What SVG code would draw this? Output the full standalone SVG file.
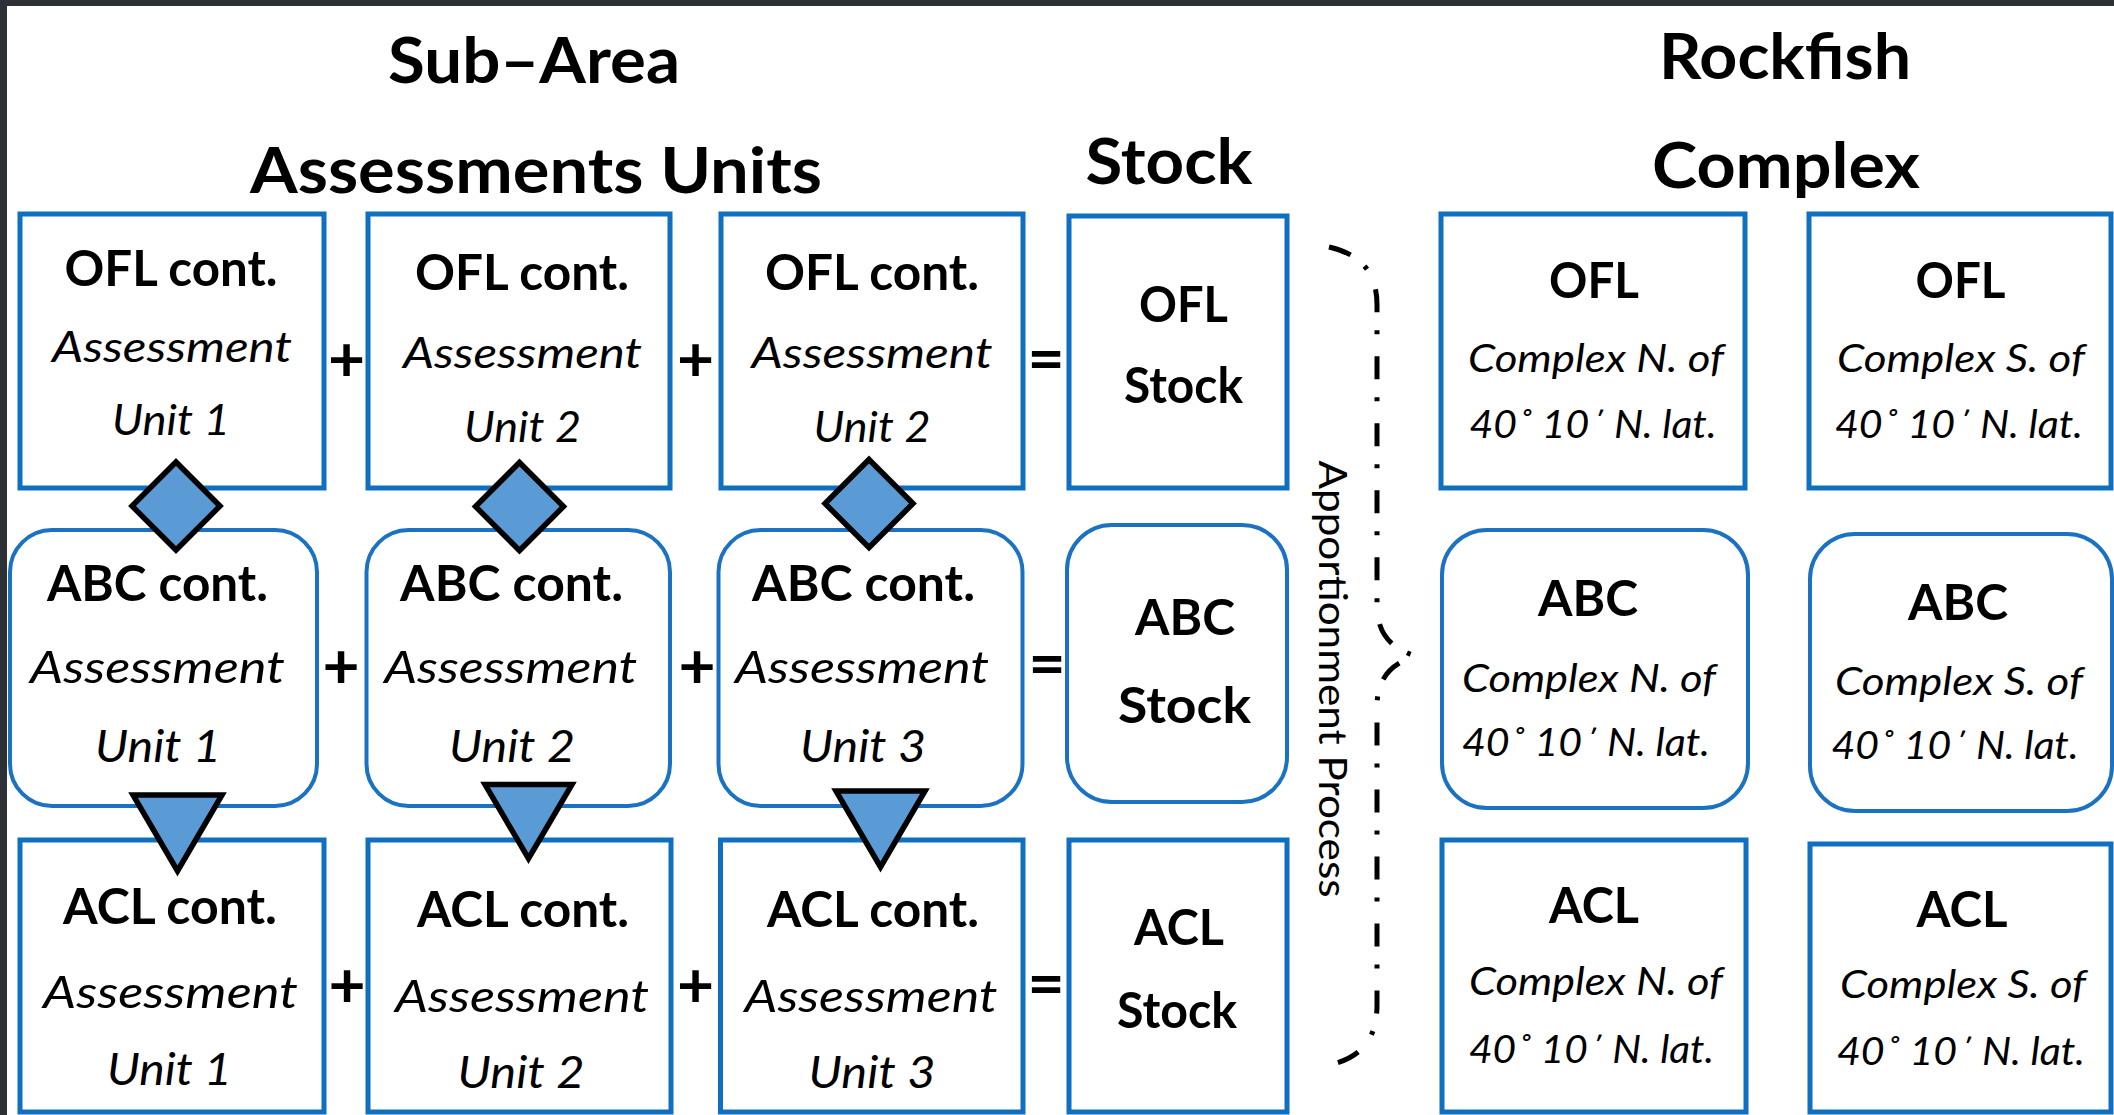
<svg xmlns="http://www.w3.org/2000/svg" width="2114" height="1115" viewBox="0 0 2114 1115">
<style>
.box{fill:#fff;stroke:#0f6fc1;stroke-width:5}
.rbox{fill:#fff;stroke:#1c72c2;stroke-width:4}
.t{font-family:Lato,"Liberation Sans",sans-serif;fill:#000;text-anchor:middle}
.b{font-weight:700}
.i{font-style:italic}
.h{font-size:64px}
.s1{font-size:49px}
.i1{font-size:42px}
.i2{font-size:45px}
.sb{font-size:50px}
.ci{font-size:39px}
.op{font-family:Lato,"Liberation Sans",sans-serif;font-size:64px;font-weight:700;fill:#000;text-anchor:middle}
.sym{fill:#5b9bd5;stroke:#000;stroke-width:5.5;stroke-linejoin:miter}
.brace{fill:none;stroke:#000;stroke-width:5;stroke-dasharray:23 18 4 22}
</style>
<rect x="0" y="0" width="2114" height="1115" fill="#2d3135"/>
<rect x="7" y="6" width="2107" height="1109" fill="#fff"/>

<g id="titles">
<text class="t b h" x="534" y="83" textLength="292" lengthAdjust="spacingAndGlyphs">Sub–Area</text>
<text class="t b h" x="536" y="193" textLength="572" lengthAdjust="spacingAndGlyphs">Assessments Units</text>
<text class="t b h" x="1169" y="184" textLength="167" lengthAdjust="spacingAndGlyphs">Stock</text>
<text class="t b h" x="1785" y="79" textLength="252" lengthAdjust="spacingAndGlyphs">Rockfish</text>
<text class="t b h" x="1786" y="188" textLength="268" lengthAdjust="spacingAndGlyphs">Complex</text>
</g>

<g id="ofl-au1">
<rect class="box" x="20" y="214" width="304" height="274"/>
<text class="t b s1" x="171" y="286" textLength="213" lengthAdjust="spacingAndGlyphs">OFL cont.</text>
<text class="t i i1" x="172" y="362" textLength="240" lengthAdjust="spacingAndGlyphs">Assessment</text>
<text class="t i i1" x="171" y="435" textLength="118" lengthAdjust="spacingAndGlyphs">Unit 1</text>
</g>
<g id="ofl-au2">
<rect class="box" x="368" y="214" width="302" height="274"/>
<text class="t b s1" x="522" y="290" textLength="214" lengthAdjust="spacingAndGlyphs">OFL cont.</text>
<text class="t i i1" x="522.5" y="368" textLength="239" lengthAdjust="spacingAndGlyphs">Assessment</text>
<text class="t i i1" x="522.5" y="442" textLength="117" lengthAdjust="spacingAndGlyphs">Unit 2</text>
</g>
<g id="ofl-au3">
<rect class="box" x="721" y="214" width="302" height="274"/>
<text class="t b s1" x="872" y="290" textLength="214" lengthAdjust="spacingAndGlyphs">OFL cont.</text>
<text class="t i i1" x="872" y="368" textLength="241" lengthAdjust="spacingAndGlyphs">Assessment</text>
<text class="t i i1" x="872" y="442" textLength="117" lengthAdjust="spacingAndGlyphs">Unit 2</text>
</g>
<g id="ofl-stock">
<rect class="box" x="1069" y="216" width="218" height="272"/>
<text class="t b sb" x="1183.5" y="322" textLength="89" lengthAdjust="spacingAndGlyphs">OFL</text>
<text class="t b sb" x="1183.5" y="403" textLength="119" lengthAdjust="spacingAndGlyphs">Stock</text>
</g>
<g id="ofl-north">
<rect class="box" x="1441" y="214" width="304" height="274"/>
<text class="t b sb" x="1594" y="298" textLength="90" lengthAdjust="spacingAndGlyphs">OFL</text>
<text class="t i ci" x="1596" y="372" textLength="256" lengthAdjust="spacingAndGlyphs">Complex N. of</text>
<text class="t i ci" x="1593" y="438" textLength="247" lengthAdjust="spacingAndGlyphs">40˚ 10΄ N. lat.</text>
</g>
<g id="ofl-south">
<rect class="box" x="1809" y="214" width="302" height="274"/>
<text class="t b sb" x="1960.5" y="298" textLength="90" lengthAdjust="spacingAndGlyphs">OFL</text>
<text class="t i ci" x="1961" y="372" textLength="248" lengthAdjust="spacingAndGlyphs">Complex S. of</text>
<text class="t i ci" x="1959" y="438" textLength="248" lengthAdjust="spacingAndGlyphs">40˚ 10΄ N. lat.</text>
</g>

<g id="abc-au1">
<rect class="rbox" x="10" y="530" width="307" height="276" rx="42"/>
<text class="t b s1" x="157.5" y="601" textLength="221" lengthAdjust="spacingAndGlyphs">ABC cont.</text>
<text class="t i i2" x="157.5" y="683" textLength="255" lengthAdjust="spacingAndGlyphs">Assessment</text>
<text class="t i i2" x="158" y="762" textLength="126" lengthAdjust="spacingAndGlyphs">Unit 1</text>
</g>
<g id="abc-au2">
<rect class="rbox" x="366.5" y="530" width="303.5" height="276" rx="42"/>
<text class="t b s1" x="511.5" y="601" textLength="223" lengthAdjust="spacingAndGlyphs">ABC cont.</text>
<text class="t i i2" x="510.7" y="683" textLength="253" lengthAdjust="spacingAndGlyphs">Assessment</text>
<text class="t i i2" x="512" y="762" textLength="126" lengthAdjust="spacingAndGlyphs">Unit 2</text>
</g>
<g id="abc-au3">
<rect class="rbox" x="718.5" y="530" width="304" height="276" rx="42"/>
<text class="t b s1" x="863.5" y="601" textLength="223" lengthAdjust="spacingAndGlyphs">ABC cont.</text>
<text class="t i i2" x="862" y="683" textLength="254" lengthAdjust="spacingAndGlyphs">Assessment</text>
<text class="t i i2" x="863" y="762" textLength="126" lengthAdjust="spacingAndGlyphs">Unit 3</text>
</g>
<g id="abc-stock">
<rect class="rbox" x="1067" y="525" width="220" height="277" rx="45"/>
<text class="t b sb" x="1185" y="635" textLength="100" lengthAdjust="spacingAndGlyphs">ABC</text>
<text class="t b sb" x="1184.5" y="723" textLength="133" lengthAdjust="spacingAndGlyphs">Stock</text>
</g>
<g id="abc-north">
<rect class="rbox" x="1442" y="530" width="306" height="278" rx="45"/>
<text class="t b sb" x="1588" y="616" textLength="100" lengthAdjust="spacingAndGlyphs">ABC</text>
<text class="t i ci" x="1589" y="692" textLength="254" lengthAdjust="spacingAndGlyphs">Complex N. of</text>
<text class="t i ci" x="1586" y="756" textLength="248" lengthAdjust="spacingAndGlyphs">40˚ 10΄ N. lat.</text>
</g>
<g id="abc-south">
<rect class="rbox" x="1810" y="534" width="302" height="277" rx="45"/>
<text class="t b sb" x="1958" y="620" textLength="100" lengthAdjust="spacingAndGlyphs">ABC</text>
<text class="t i ci" x="1959" y="695" textLength="248" lengthAdjust="spacingAndGlyphs">Complex S. of</text>
<text class="t i ci" x="1955" y="759" textLength="247" lengthAdjust="spacingAndGlyphs">40˚ 10΄ N. lat.</text>
</g>

<g id="acl-au1">
<rect class="box" x="20" y="840" width="304" height="272"/>
<text class="t b s1" x="170" y="924" textLength="214" lengthAdjust="spacingAndGlyphs">ACL cont.</text>
<text class="t i i2" x="170.5" y="1008" textLength="255" lengthAdjust="spacingAndGlyphs">Assessment</text>
<text class="t i i2" x="169.5" y="1085" textLength="125" lengthAdjust="spacingAndGlyphs">Unit 1</text>
</g>
<g id="acl-au2">
<rect class="box" x="368" y="840" width="303" height="272"/>
<text class="t b s1" x="523" y="927" textLength="212" lengthAdjust="spacingAndGlyphs">ACL cont.</text>
<text class="t i i2" x="522" y="1012" textLength="254" lengthAdjust="spacingAndGlyphs">Assessment</text>
<text class="t i i2" x="521" y="1088" textLength="127" lengthAdjust="spacingAndGlyphs">Unit 2</text>
</g>
<g id="acl-au3">
<rect class="box" x="720.5" y="840" width="302.5" height="272"/>
<text class="t b s1" x="873" y="927" textLength="212" lengthAdjust="spacingAndGlyphs">ACL cont.</text>
<text class="t i i2" x="871" y="1012" textLength="253" lengthAdjust="spacingAndGlyphs">Assessment</text>
<text class="t i i2" x="872" y="1088" textLength="127" lengthAdjust="spacingAndGlyphs">Unit 3</text>
</g>
<g id="acl-stock">
<rect class="box" x="1069" y="840" width="218" height="272"/>
<text class="t b sb" x="1179" y="945" textLength="90" lengthAdjust="spacingAndGlyphs">ACL</text>
<text class="t b sb" x="1177" y="1028" textLength="120" lengthAdjust="spacingAndGlyphs">Stock</text>
</g>
<g id="acl-north">
<rect class="box" x="1442" y="840" width="304" height="272"/>
<text class="t b sb" x="1594" y="923" textLength="90" lengthAdjust="spacingAndGlyphs">ACL</text>
<text class="t i ci" x="1596" y="995" textLength="254" lengthAdjust="spacingAndGlyphs">Complex N. of</text>
<text class="t i ci" x="1591.5" y="1063" textLength="245" lengthAdjust="spacingAndGlyphs">40˚ 10΄ N. lat.</text>
</g>
<g id="acl-south">
<rect class="box" x="1810" y="844" width="301" height="268"/>
<text class="t b sb" x="1962" y="927" textLength="91" lengthAdjust="spacingAndGlyphs">ACL</text>
<text class="t i ci" x="1963" y="998" textLength="246" lengthAdjust="spacingAndGlyphs">Complex S. of</text>
<text class="t i ci" x="1961" y="1065" textLength="248" lengthAdjust="spacingAndGlyphs">40˚ 10΄ N. lat.</text>
</g>

<g id="connectors">
<polygon class="sym" points="176,462 220,506 176,550 132,506"/>
<polygon class="sym" points="519.5,462.5 563.5,506.5 519.5,550.5 475.5,506.5"/>
<polygon class="sym" points="869,459.5 913,503.5 869,547.5 825,503.5"/>
<polygon class="sym" points="133,795 222,795 177.5,871"/>
<polygon class="sym" points="485,784.5 572,784.5 528.5,858.5"/>
<polygon class="sym" points="836,791 925,791 880.5,867"/>
<text class="op" x="346.5" y="381">+</text>
<text class="op" x="695.5" y="381">+</text>
<text class="op" x="1046" y="381">=</text>
<text class="op" x="341" y="688">+</text>
<text class="op" x="697" y="688">+</text>
<text class="op" x="1047" y="686">=</text>
<text class="op" x="347" y="1007">+</text>
<text class="op" x="695.5" y="1007">+</text>
<text class="op" x="1046" y="1006">=</text>
<path class="brace" d="M1329,247 C1360,254 1377,272 1377,305 L1377,605 C1377,635 1392,648 1415,656 C1392,664 1377,677 1377,707 L1377,1005 C1377,1040 1360,1057 1333,1064"/>
<text class="t" x="0" y="0" font-size="38" textLength="437" lengthAdjust="spacingAndGlyphs" transform="translate(1319,679) rotate(90)">Apportionment Process</text>
</g>
</svg>
